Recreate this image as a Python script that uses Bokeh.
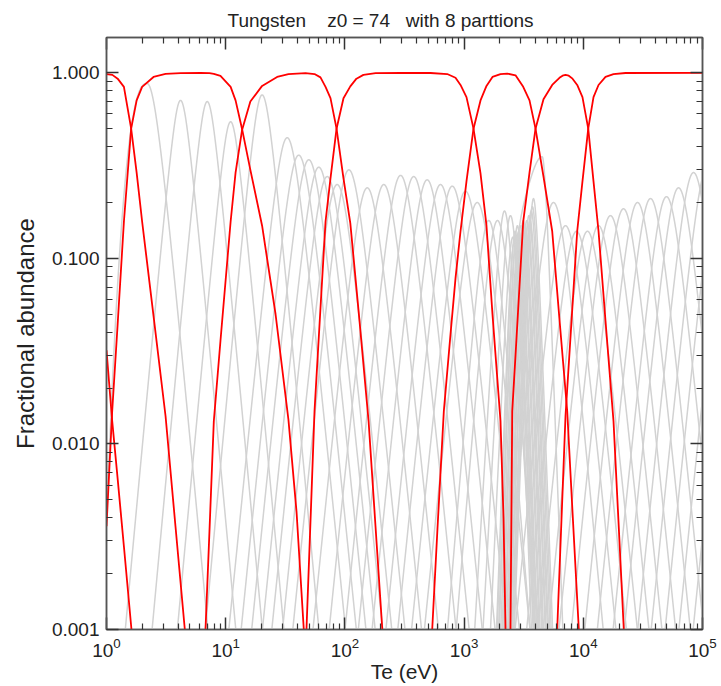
import numpy as np
from bokeh.plotting import figure
from bokeh.models import (Range1d, FixedTicker, LogAxis, PrintfTickFormatter,
                          CustomJSTickFormatter)
from bokeh.embed import file_html
from bokeh.resources import INLINE

TITLE = "Tungsten" + "\u00a0" * 4 + "z0 = 74" + "\u00a0" * 3 + "with 8 parttions"
X_LABEL = "Te (eV)"
Y_LABEL = "Fractional abundance"

x_major = [1, 10, 100, 1e3, 1e4, 1e5]
y_major = [0.001, 0.01, 0.1, 1.0]

# ---- red partition curves (Te in eV, fractional abundance) ----
p1_te = [1.0, 1.116, 1.24, 1.40, 1.62]
p1_f = [0.032, 0.0133, 0.0065, 0.0028, 0.001]

p2_te = [1.0, 1.12, 1.24, 1.40, 1.61, 1.79, 1.99, 2.48, 3.13, 3.79, 4.54]
p2_f = [0.985, 0.975, 0.93, 0.84, 0.50, 0.29, 0.158, 0.049, 0.0141, 0.0036, 0.001]

p3_te = [1.0, 1.116, 1.24, 1.40, 1.61, 1.79, 1.99, 2.48, 3.13, 4.18, 6.15, 7.31, 7.95, 9.04,
         11.0, 12.1, 13.7, 16.1, 20.2, 26.2, 33.6, 39.3, 45.2]
p3_f = [0.0036, 0.015, 0.044, 0.158, 0.50, 0.71, 0.84, 0.95, 0.986, 0.997, 0.999, 0.996, 0.987, 0.964,
        0.84, 0.71, 0.50, 0.30, 0.150, 0.050, 0.0135, 0.0043, 0.001]

p4_te = [6.77, 7.31, 7.95, 9.04, 11.0, 12.1, 13.7, 16.1, 20.2, 27.0, 33.6, 46.7, 55.6, 62.4, 68.8,
         75.7, 85.1, 97.3, 111, 132.6, 158, 180.6, 206]
p4_f = [0.001, 0.0034, 0.0133, 0.036, 0.158, 0.29, 0.49, 0.70, 0.85, 0.95, 0.985, 0.995, 0.985, 0.945, 0.84,
        0.73, 0.50, 0.27, 0.155, 0.046, 0.0133, 0.0036, 0.001]

p5_te = [47.6, 51.5, 55.6, 62.4, 68.8, 75.7, 85.1, 97.3, 111, 125, 143, 181, 293, 523, 722, 847, 933,
         1047, 1199, 1373, 1541, 1730, 2020, 2142, 2225]
p5_f = [0.001, 0.0039, 0.015, 0.054, 0.158, 0.27, 0.50, 0.73, 0.845, 0.93, 0.975, 0.995, 1.0, 0.998, 0.985,
        0.94, 0.86, 0.74, 0.50, 0.287, 0.15, 0.050, 0.0133, 0.004, 0.001]

p6_te = [540, 598, 676, 769, 847, 933, 1047, 1199, 1373, 1541, 1730, 2020, 2300, 2700, 3133, 3538, 3973,
         4635, 5485, 6310, 7330, 8120, 9170]
p6_f = [0.001, 0.0035, 0.015, 0.039, 0.078, 0.14, 0.26, 0.50, 0.71, 0.85, 0.95, 0.985, 0.99, 0.97, 0.84,
        0.71, 0.50, 0.276, 0.14, 0.047, 0.015, 0.0043, 0.001]

p7_te = [2450, 2534, 2700, 3133, 3538, 3973, 4635, 5485, 6310, 6700, 7090, 7550, 8120, 8890, 9840,
         11000, 12180, 13420, 15360, 17920, 19740, 21870]
p7_f = [0.001, 0.015, 0.030, 0.158, 0.29, 0.50, 0.72, 0.86, 0.94, 0.965, 0.975, 0.965, 0.93, 0.86, 0.74,
        0.50, 0.26, 0.14, 0.046, 0.0133, 0.0038, 0.001]

p8_te = [6040, 6560, 7090, 8120, 8890, 9840, 11000, 12180, 13420, 15360, 17920, 22600, 100000]
p8_f = [0.001, 0.0039, 0.0141, 0.056, 0.14, 0.26, 0.50, 0.74, 0.86, 0.95, 0.985, 0.998, 1.0]

red_te = [p1_te, p2_te, p3_te, p4_te, p5_te, p6_te, p7_te, p8_te]
red_f = [p1_f, p2_f, p3_f, p4_f, p5_f, p6_f, p7_f, p8_f]

# ---- grey ion-stage curves: peak Te, peak abundance, tail slope, core width (decades) ----
gray_stage = list(range(2, 75))
gray_te_peak = [2.19, 4.18, 7.0, 11.0, 20.2, 32.8, 41.0, 49.8, 60.4, 71.1, 86.1, 108, 154, 212, 293,
                378, 490, 634, 795, 1027, 1288, 1611, 1906, 2183, 2450,
                2560, 2620, 2680, 2740, 2800, 2870, 2930, 3000, 3070, 3140, 3210, 3280, 3360, 3430,
                3500, 3580, 3660, 3740, 3820,
                4520, 5623, 7090, 8770, 10840, 13420, 16900, 21730, 28510, 36640, 49890, 62950, 84130,
                110200, 144300, 189100, 247800, 325000, 425700, 558000, 731000, 959000, 1257000,
                1647000, 2158000, 2827000, 3705000, 4860000, 6370000]
gray_f_peak = [0.876, 0.71, 0.70, 0.545, 0.76, 0.447, 0.36, 0.34, 0.31, 0.276, 0.25, 0.30, 0.24, 0.25, 0.28,
               0.276, 0.265, 0.25, 0.245, 0.23, 0.20, 0.16, 0.16, 0.18, 0.17,
               0.13, 0.12, 0.14, 0.13, 0.15, 0.14, 0.13, 0.15, 0.14, 0.16, 0.15, 0.14, 0.16, 0.15,
               0.17, 0.16, 0.18, 0.19, 0.21,
               0.353, 0.20, 0.15, 0.14, 0.14, 0.15, 0.17, 0.185, 0.20, 0.21, 0.215, 0.24, 0.29,
               0.31, 0.31, 0.32, 0.31, 0.30, 0.30, 0.31, 0.30, 0.30, 0.31,
               0.30, 0.30, 0.31, 0.30, 0.30, 0.32]
gray_tail_slope = ([7, 7, 7, 7, 7, 6.5] + [6.5] * 15 + [8, 8, 11, 12, 14] + [18] * 19 + [7] + [6.5] * 28)
gray_core_width = ([0.1, 0.06, 0.06, 0.06, 0.07, 0.09] + [0.1] * 15 + [0.08, 0.08, 0.05, 0.05, 0.04]
                   + [0.035] * 19 + [0.1] + [0.1] * 28)
# stages whose low-Te flank plunges faster: (slope, core width, steep width, steep power)
steep_left = {2: (0.0, 0.1, 0.239, 2.44), 46: (3.0, 0.1, 0.255, 12.0)}

te = np.logspace(0, 5, 3000)
lt = np.log10(te)
gxs, gys = [], []
for z, tp, fp, m, b in zip(gray_stage, gray_te_peak, gray_f_peak, gray_tail_slope, gray_core_width):
    d = lt - np.log10(tp)
    drop = m * b * (np.sqrt(1 + (d / b) ** 2) - 1)
    if z in steep_left:
        mL, bL, w, q = steep_left[z]
        left = mL * bL * (np.sqrt(1 + (d / bL) ** 2) - 1) + np.minimum(np.abs(d) / w, 3.0) ** q
        drop = np.where(d < 0, left, drop)
    drop = np.minimum(drop, 8.0)
    f = fp * 10.0 ** (-drop)
    gxs.append(te)
    gys.append(f)

FONT = "Liberation Sans"

p = figure(width=721, height=686, x_axis_type="log", y_axis_type="log",
           x_range=Range1d(1, 1e5), y_range=Range1d(1e-3, 1.55),
           output_backend="svg", toolbar_location=None,
           min_border_left=106, min_border_right=19, min_border_top=36, min_border_bottom=57)

p.title.text = TITLE
p.title.text_font = FONT
p.title.text_font_size = "19px"
p.title.text_font_style = "normal"
p.title.text_color = "#222222"
p.title.align = "left"
p.title.offset = 121
p.title.standoff = 14

p.grid.visible = False
p.outline_line_color = "#555555"
p.outline_line_width = 1.5
p.background_fill_color = "white"
p.border_fill_color = "white"

p.multi_line(xs=gxs, ys=gys, line_color="#d2d2d2", line_width=1.5)
for tx, fx in zip(red_te, red_f):
    p.line(tx, fx, line_color="#ff0000", line_width=1.8)

x_minor = [k * 10 ** e for e in range(0, 5) for k in range(2, 10)]
y_minor = [k * 10.0 ** e for e in range(-3, 0) for k in range(2, 10)]
xt = FixedTicker(ticks=x_major, minor_ticks=x_minor)
yt = FixedTicker(ticks=y_major, minor_ticks=y_minor)


def style(ax):
    ax.major_tick_in = 12
    ax.major_tick_out = 0
    ax.minor_tick_in = 6
    ax.minor_tick_out = 0
    ax.major_tick_line_color = "#333333"
    ax.minor_tick_line_color = "#333333"
    ax.major_tick_line_width = 1.5
    ax.minor_tick_line_width = 1.2
    ax.axis_line_color = "#555555"
    ax.axis_line_width = 1.5
    ax.major_label_text_font = FONT
    ax.major_label_text_color = "#222222"
    ax.axis_label_text_font = FONT
    ax.axis_label_text_font_style = "normal"
    ax.axis_label_text_color = "#222222"


xa = p.xaxis[0]
xa.ticker = xt
style(xa)
xa.major_label_text_font_size = "19px"
xa.major_label_standoff = 8
xa.axis_label = X_LABEL
xa.axis_label_text_font_size = "21px"
xa.axis_label_standoff = 0

ya = p.yaxis[0]
ya.ticker = yt
ya.formatter = PrintfTickFormatter(format="%.3f")
style(ya)
ya.major_label_text_font_size = "19px"
ya.major_label_standoff = 7
ya.axis_label = Y_LABEL
ya.axis_label_text_font_size = "24px"
ya.axis_label_standoff = 10

top = LogAxis(ticker=xt, formatter=CustomJSTickFormatter(code="return '';"), major_label_standoff=0)
style(top)
p.add_layout(top, "above")
right = LogAxis(ticker=yt, formatter=CustomJSTickFormatter(code="return '';"), major_label_standoff=0)
style(right)
p.add_layout(right, "right")

open("out.html", "w").write(file_html(p, INLINE))
